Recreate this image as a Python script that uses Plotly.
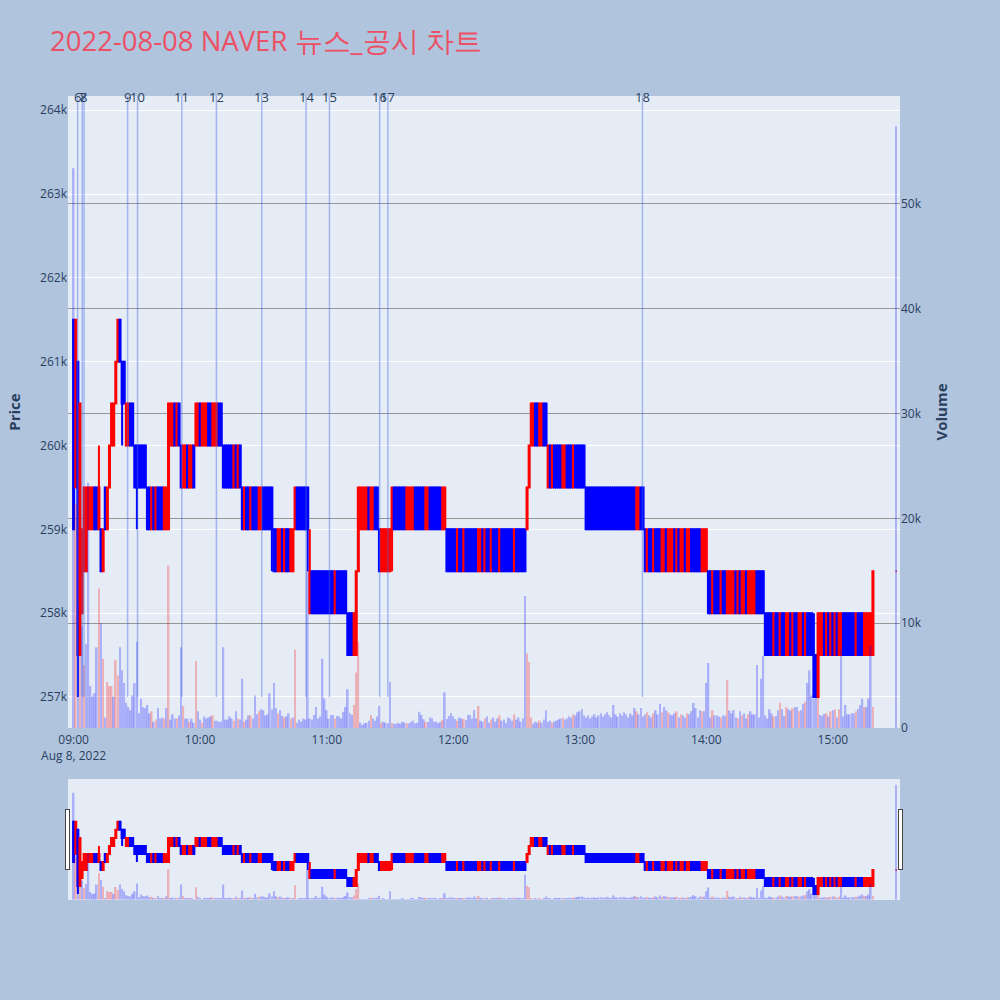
import pandas as pd
import plotly.graph_objects as go

# ---- time axis: 1-minute candles 09:00..15:19 plus the 15:30 closing print
times = list(pd.date_range('2022-08-08 09:00', '2022-08-08 15:19', freq='min').strftime('%Y-%m-%d %H:%M:%S'))
times.append('2022-08-08 15:30:00')

opens = [
    261500, 259500, 261000, 257500, 258000, 258500, 258500, 259000, 259000, 259000,
    259500, 259500, 259000, 259000, 258500, 259500, 259000, 259500, 260000, 260000,
    260500, 261000, 261500, 261000, 261000, 260000, 260000, 260500, 260500, 260000,
    260000, 260000, 260000, 260000, 260000, 259500, 259500, 259000, 259500, 259000,
    259500, 259500, 259500, 259000, 259000, 259000, 260000, 260000, 260500, 260000,
    260500, 260000, 259500, 259500, 260000, 259500, 259500, 260000, 260000, 260000,
    260500, 260000, 260000, 260000, 260500, 260500, 260000, 260000, 260000, 260500,
    260500, 260000, 260000, 260000, 260000, 260000, 259500, 260000, 259500, 260000,
    259500, 259000, 259500, 259500, 259000, 259500, 259500, 259500, 259000, 259000,
    259500, 259500, 259500, 259500, 259500, 259000, 259000, 258500, 258500, 259000,
    258500, 259000, 259000, 258500, 258500, 259000, 259500, 259500, 259500, 259500,
    259500, 259500, 258000, 258500, 258500, 258500, 258500, 258500, 258500, 258500,
    258500, 258500, 258500, 258500, 258000, 258500, 258500, 258500, 258500, 258500,
    258000, 258000, 258000, 257500, 257500, 258500, 259000, 259000, 259000, 259000,
    259500, 259000, 259000, 259500, 259500, 259000, 258500, 258500, 258500, 258500,
    258500, 259000, 259500, 259500, 259500, 259500, 259500, 259500, 259000, 259000,
    259000, 259000, 259500, 259500, 259500, 259500, 259500, 259000, 259000, 259500,
    259500, 259500, 259500, 259500, 259500, 259000, 259000, 259000, 259000, 259000,
    259000, 259000, 258500, 259000, 259000, 258500, 259000, 259000, 259000, 259000,
    259000, 259000, 258500, 258500, 259000, 258500, 259000, 259000, 258500, 259000,
    259000, 259000, 258500, 259000, 259000, 259000, 259000, 259000, 259000, 258500,
    259000, 259000, 259000, 259000, 259000, 259000, 259500, 260000, 260000, 260500,
    260500, 260000, 260000, 260500, 260500, 259500, 260000, 259500, 260000, 260000,
    260000, 260000, 259500, 259500, 260000, 260000, 260000, 259500, 260000, 260000,
    260000, 260000, 260000, 259500, 259500, 259500, 259500, 259500, 259500, 259500,
    259500, 259500, 259500, 259500, 259500, 259500, 259500, 259500, 259500, 259500,
    259500, 259500, 259500, 259500, 259500, 259500, 259500, 259000, 259000, 259500,
    259500, 259000, 258500, 259000, 259000, 258500, 259000, 259000, 259000, 258500,
    258500, 259000, 258500, 258500, 258500, 259000, 258500, 259000, 258500, 258500,
    259000, 258500, 258500, 259000, 259000, 259000, 259000, 259000, 258500, 258500,
    258500, 258500, 258500, 258000, 258500, 258500, 258500, 258000, 258500, 258500,
    258000, 258000, 258000, 258000, 258500, 258000, 258500, 258000, 258000, 258500,
    258000, 258000, 258000, 258000, 258500, 258500, 258500, 258500, 258000, 258000,
    258000, 258000, 257500, 258000, 258000, 257500, 258000, 258000, 257500, 257500,
    258000, 257500, 258000, 258000, 257500, 257500, 258000, 257500, 258000, 258000,
    258000, 257500, 257500, 257000, 257500, 257500, 258000, 257500, 258000, 257500,
    258000, 257500, 258000, 257500, 257500, 258000, 258000, 258000, 258000, 258000,
    258000, 257500, 258000, 258000, 258000, 257500, 257500, 257500, 257500, 257500,
    258500,
]

highs = [
    261500, 261500, 261000, 260500, 259000, 259500, 259500, 259500, 259500, 259500,
    259500, 259500, 260000, 259000, 259000, 259500, 259500, 260000, 260500, 260500,
    261000, 261500, 261500, 261000, 261000, 260500, 260500, 260500, 260500, 260000,
    260000, 260000, 260000, 260000, 260000, 259500, 259500, 259500, 259500, 259500,
    259500, 259500, 259500, 259500, 259500, 260500, 260500, 260500, 260500, 260500,
    260500, 260000, 260000, 260000, 260000, 260000, 260000, 260000, 260500, 260500,
    260500, 260500, 260500, 260500, 260500, 260500, 260500, 260500, 260500, 260500,
    260500, 260000, 260000, 260000, 260000, 260000, 260000, 260000, 260000, 260000,
    259500, 259500, 259500, 259500, 259500, 259500, 259500, 259500, 259500, 259500,
    259500, 259500, 259500, 259500, 259500, 259000, 259000, 259000, 259000, 259000,
    259000, 259000, 259000, 259000, 259000, 259500, 259500, 259500, 259500, 259500,
    259500, 259500, 259000, 258500, 258500, 258500, 258500, 258500, 258500, 258500,
    258500, 258500, 258500, 258500, 258500, 258500, 258500, 258500, 258500, 258500,
    258000, 258000, 258000, 258000, 258500, 259500, 259500, 259500, 259500, 259500,
    259500, 259500, 259500, 259500, 259500, 259000, 259000, 259000, 259000, 259000,
    259000, 259500, 259500, 259500, 259500, 259500, 259500, 259500, 259500, 259500,
    259500, 259500, 259500, 259500, 259500, 259500, 259500, 259500, 259500, 259500,
    259500, 259500, 259500, 259500, 259500, 259500, 259500, 259000, 259000, 259000,
    259000, 259000, 259000, 259000, 259000, 259000, 259000, 259000, 259000, 259000,
    259000, 259000, 259000, 259000, 259000, 259000, 259000, 259000, 259000, 259000,
    259000, 259000, 259000, 259000, 259000, 259000, 259000, 259000, 259000, 259000,
    259000, 259000, 259000, 259000, 259000, 259500, 260000, 260500, 260500, 260500,
    260500, 260500, 260500, 260500, 260500, 260000, 260000, 260000, 260000, 260000,
    260000, 260000, 260000, 260000, 260000, 260000, 260000, 260000, 260000, 260000,
    260000, 260000, 260000, 259500, 259500, 259500, 259500, 259500, 259500, 259500,
    259500, 259500, 259500, 259500, 259500, 259500, 259500, 259500, 259500, 259500,
    259500, 259500, 259500, 259500, 259500, 259500, 259500, 259500, 259500, 259500,
    259500, 259000, 259000, 259000, 259000, 259000, 259000, 259000, 259000, 259000,
    259000, 259000, 259000, 259000, 259000, 259000, 259000, 259000, 259000, 259000,
    259000, 259000, 259000, 259000, 259000, 259000, 259000, 259000, 259000, 259000,
    259000, 258500, 258500, 258500, 258500, 258500, 258500, 258500, 258500, 258500,
    258500, 258500, 258500, 258500, 258500, 258500, 258500, 258500, 258500, 258500,
    258500, 258500, 258500, 258500, 258500, 258500, 258500, 258500, 258000, 258000,
    258000, 258000, 258000, 258000, 258000, 258000, 258000, 258000, 258000, 258000,
    258000, 258000, 258000, 258000, 258000, 258000, 258000, 258000, 258000, 258000,
    258000, 258000, 257500, 258000, 258000, 258000, 258000, 258000, 258000, 258000,
    258000, 258000, 258000, 258000, 258000, 258000, 258000, 258000, 258000, 258000,
    258000, 258000, 258000, 258000, 258000, 258000, 258000, 258000, 258000, 258500,
    258500,
]

lows = [
    259000, 259500, 257000, 257500, 258000, 258500, 258500, 259000, 259000, 259000,
    259000, 259000, 259000, 258500, 258500, 259000, 259000, 259500, 260000, 260000,
    260500, 261000, 261000, 260000, 260500, 260000, 260000, 260000, 260000, 259500,
    259000, 259500, 259500, 259500, 259500, 259000, 259000, 259000, 259000, 259000,
    259000, 259000, 259000, 259000, 259000, 259000, 260000, 260000, 260000, 260000,
    260000, 259500, 259500, 259500, 259500, 259500, 259500, 259500, 260000, 260000,
    260000, 260000, 260000, 260000, 260000, 260000, 260000, 260000, 260000, 260000,
    260000, 259500, 259500, 259500, 259500, 259500, 259500, 259500, 259500, 259500,
    259000, 259000, 259000, 259000, 259000, 259000, 259000, 259000, 259000, 259000,
    259000, 259000, 259000, 259000, 258500, 258500, 258500, 258500, 258500, 258500,
    258500, 258500, 258500, 258500, 258500, 259000, 259000, 259000, 259000, 259000,
    259000, 258500, 258000, 258000, 258000, 258000, 258000, 258000, 258000, 258000,
    258000, 258000, 258000, 258000, 258000, 258000, 258000, 258000, 258000, 258000,
    257500, 257500, 257500, 257500, 257500, 258500, 259000, 259000, 259000, 259000,
    259000, 259000, 259000, 259000, 259000, 258500, 258500, 258500, 258500, 258500,
    258500, 258500, 259000, 259000, 259000, 259000, 259000, 259000, 259000, 259000,
    259000, 259000, 259000, 259000, 259000, 259000, 259000, 259000, 259000, 259000,
    259000, 259000, 259000, 259000, 259000, 259000, 259000, 258500, 258500, 258500,
    258500, 258500, 258500, 258500, 258500, 258500, 258500, 258500, 258500, 258500,
    258500, 258500, 258500, 258500, 258500, 258500, 258500, 258500, 258500, 258500,
    258500, 258500, 258500, 258500, 258500, 258500, 258500, 258500, 258500, 258500,
    258500, 258500, 258500, 258500, 258500, 259000, 259500, 260000, 260000, 260000,
    260000, 260000, 260000, 260000, 260000, 259500, 259500, 259500, 259500, 259500,
    259500, 259500, 259500, 259500, 259500, 259500, 259500, 259500, 259500, 259500,
    259500, 259500, 259500, 259000, 259000, 259000, 259000, 259000, 259000, 259000,
    259000, 259000, 259000, 259000, 259000, 259000, 259000, 259000, 259000, 259000,
    259000, 259000, 259000, 259000, 259000, 259000, 259000, 259000, 259000, 259000,
    259000, 258500, 258500, 258500, 258500, 258500, 258500, 258500, 258500, 258500,
    258500, 258500, 258500, 258500, 258500, 258500, 258500, 258500, 258500, 258500,
    258500, 258500, 258500, 258500, 258500, 258500, 258500, 258500, 258500, 258500,
    258500, 258000, 258000, 258000, 258000, 258000, 258000, 258000, 258000, 258000,
    258000, 258000, 258000, 258000, 258000, 258000, 258000, 258000, 258000, 258000,
    258000, 258000, 258000, 258000, 258000, 258000, 258000, 258000, 257500, 257500,
    257500, 257500, 257500, 257500, 257500, 257500, 257500, 257500, 257500, 257500,
    257500, 257500, 257500, 257500, 257500, 257500, 257500, 257500, 257500, 257500,
    257500, 257000, 257000, 257000, 257500, 257500, 257500, 257500, 257500, 257500,
    257500, 257500, 257500, 257500, 257500, 257500, 257500, 257500, 257500, 257500,
    257500, 257500, 257500, 257500, 257500, 257500, 257500, 257500, 257500, 257500,
    258500,
]

closes = [
    259000, 261500, 257500, 260500, 259000, 259500, 259500, 259500, 259500, 259500,
    259000, 259000, 259500, 258500, 259000, 259000, 259500, 260000, 260500, 260500,
    261000, 261500, 261000, 260500, 260500, 260500, 260500, 260000, 260000, 259500,
    259500, 259500, 259500, 259500, 259500, 259000, 259000, 259500, 259000, 259500,
    259000, 259000, 259000, 259500, 259500, 260500, 260500, 260500, 260000, 260500,
    260000, 259500, 260000, 260000, 259500, 260000, 260000, 259500, 260500, 260500,
    260000, 260500, 260500, 260500, 260000, 260000, 260500, 260500, 260500, 260000,
    260000, 259500, 259500, 259500, 259500, 259500, 260000, 259500, 260000, 259500,
    259000, 259500, 259000, 259000, 259500, 259000, 259000, 259000, 259500, 259500,
    259000, 259000, 259000, 259000, 259000, 258500, 258500, 259000, 259000, 258500,
    259000, 258500, 258500, 259000, 259000, 259500, 259000, 259000, 259000, 259000,
    259000, 259000, 258500, 258000, 258000, 258000, 258000, 258000, 258000, 258000,
    258000, 258000, 258000, 258000, 258500, 258000, 258000, 258000, 258000, 258000,
    257500, 257500, 257500, 258000, 258500, 259500, 259500, 259500, 259500, 259500,
    259000, 259500, 259500, 259000, 259000, 258500, 259000, 259000, 259000, 259000,
    259000, 259500, 259000, 259000, 259000, 259000, 259000, 259000, 259500, 259500,
    259500, 259500, 259000, 259000, 259000, 259000, 259000, 259500, 259500, 259000,
    259000, 259000, 259000, 259000, 259000, 259500, 259500, 258500, 258500, 258500,
    258500, 258500, 259000, 258500, 258500, 259000, 258500, 258500, 258500, 258500,
    258500, 258500, 259000, 259000, 258500, 259000, 258500, 258500, 259000, 258500,
    258500, 258500, 259000, 258500, 258500, 258500, 258500, 258500, 258500, 259000,
    258500, 258500, 258500, 258500, 258500, 259500, 260000, 260500, 260500, 260000,
    260000, 260500, 260500, 260000, 260000, 260000, 259500, 260000, 259500, 259500,
    259500, 259500, 260000, 260000, 259500, 259500, 259500, 260000, 259500, 259500,
    259500, 259500, 259500, 259000, 259000, 259000, 259000, 259000, 259000, 259000,
    259000, 259000, 259000, 259000, 259000, 259000, 259000, 259000, 259000, 259000,
    259000, 259000, 259000, 259000, 259000, 259000, 259000, 259500, 259500, 259000,
    259000, 258500, 259000, 258500, 258500, 259000, 258500, 258500, 258500, 259000,
    259000, 258500, 259000, 259000, 259000, 258500, 259000, 258500, 259000, 259000,
    258500, 259000, 259000, 258500, 258500, 258500, 258500, 258500, 259000, 259000,
    259000, 258000, 258000, 258500, 258000, 258000, 258000, 258500, 258000, 258000,
    258500, 258500, 258500, 258500, 258000, 258500, 258000, 258500, 258500, 258000,
    258500, 258500, 258500, 258500, 258000, 258000, 258000, 258000, 257500, 257500,
    257500, 257500, 258000, 257500, 257500, 258000, 257500, 257500, 258000, 258000,
    257500, 258000, 257500, 257500, 258000, 258000, 257500, 258000, 257500, 257500,
    257500, 257000, 257000, 258000, 258000, 258000, 257500, 258000, 257500, 258000,
    257500, 258000, 257500, 258000, 258000, 257500, 257500, 257500, 257500, 257500,
    257500, 258000, 257500, 257500, 257500, 258000, 258000, 258000, 258000, 258500,
    258500,
]

volumes = [
    53400, 21400, 12000, 9000, 9700, 6000, 8000, 23400, 4000, 3000,
    3300, 7700, 13300, 10000, 6600, 1000, 4400, 4000, 4000, 3000,
    6500, 5000, 7700, 5500, 4300, 2400, 2000, 1700, 3100, 4300,
    8200, 1400, 2800, 2000, 1900, 2200, 1400, 1600, 600, 800,
    1900, 900, 1000, 900, 1900, 15500, 800, 1300, 900, 900,
    1200, 7700, 2100, 900, 900, 600, 900, 500, 6400, 1600,
    800, 500, 1100, 900, 1000, 1100, 1200, 700, 700, 600,
    600, 7700, 800, 800, 1100, 900, 700, 1600, 900, 800,
    4700, 600, 800, 1200, 1200, 900, 3100, 1300, 1600, 1800,
    1700, 1200, 1300, 3300, 1800, 4300, 1900, 1400, 1700, 1150,
    1000, 1100, 1400, 900, 1000, 7500, 500, 800, 600, 900,
    800, 15000, 900, 800, 1250, 2000, 900, 1100, 6600, 2800,
    1700, 900, 1250, 1250, 900, 1150, 1100, 900, 1550, 2000,
    3700, 1400, 1250, 2200, 5300, 8200, 500, 300, 450, 500,
    700, 1250, 900, 700, 1100, 2100, 500, 600, 500, 450,
    4400, 450, 400, 400, 500, 400, 600, 500, 450, 450,
    600, 700, 450, 500, 1550, 1250, 850, 600, 580, 1000,
    900, 600, 600, 450, 580, 750, 3400, 850, 1150, 1400,
    1100, 850, 700, 1000, 900, 850, 750, 1250, 1250, 900,
    1700, 900, 2100, 700, 600, 900, 1100, 500, 800, 1000,
    600, 900, 1200, 700, 800, 500, 1000, 900, 700, 1300,
    800, 1000, 600, 900, 12600, 7100, 6300, 1000, 400, 600,
    500, 700, 500, 800, 1700, 600, 700, 500, 600, 700,
    800, 900, 1000, 800, 900, 1100, 1000, 1300, 1200, 1500,
    1600, 1800, 1200, 1000, 1200, 900, 1100, 1300, 1000, 1200,
    1400, 1100, 1300, 1500, 1200, 1000, 2200, 1300, 1100, 1400,
    1200, 1500, 1300, 1000, 1400, 1200, 1900, 1600, 1300, 1900,
    1100, 1300, 1500, 1200, 1000, 1400, 1700, 1300, 2300, 1500,
    2000, 1700, 1500, 1300, 1200, 1400, 1600, 1000, 1300, 1200,
    1000, 1400, 1300, 1600, 2400, 1900, 1000, 1700, 1600, 1600,
    4300, 6200, 1000, 1700, 1200, 1200, 1100, 1000, 1200, 1150,
    4600, 1650, 1400, 1700, 1000, 900, 1600, 1200, 1400, 900,
    1300, 1600, 1300, 1300, 6000, 1000, 4700, 6900, 1200, 900,
    1800, 1400, 1100, 1150, 1700, 2400, 1800, 1150, 2000, 1800,
    1650, 1900, 2000, 2000, 1600, 1700, 2300, 2500, 4300, 5500,
    3100, 2800, 3000, 4300, 1250, 1150, 1350, 1400, 1100, 1600,
    1700, 1800, 1000, 1800, 7500, 1100, 2200, 1300, 1300, 1400,
    1400, 1600, 1800, 2200, 2800, 2000, 2000, 2800, 7900, 2000,
    57400,
]

# news / disclosure markers
news_labels = ['6', '7', '8', '9', '10', '11', '12', '13', '14', '15', '16', '17', '18']
news_times = [
    '2022-08-08 09:01:54', '2022-08-08 09:04:04', '2022-08-08 09:04:55',
    '2022-08-08 09:25:36', '2022-08-08 09:30:18', '2022-08-08 09:51:18',
    '2022-08-08 10:07:42', '2022-08-08 10:29:12', '2022-08-08 10:50:12',
    '2022-08-08 11:01:18', '2022-08-08 11:25:06', '2022-08-08 11:29:00',
    '2022-08-08 13:29:42',
]

# volume axis tick values (labels 0 .. 50k)
volume_ticks = [0, 10000, 20000, 30000, 40000, 50000]

X_RANGE = ['2022-08-08 08:57:20', '2022-08-08 15:31:50']
Y_RANGE = [256630, 264170]
Y2_RANGE = [0, 60300]

vol_colors = ['blue'] + ['red' if closes[i] > closes[i - 1] else 'blue' for i in range(1, len(closes))]

fig = go.Figure()
fig.add_trace(go.Candlestick(
    x=times, open=opens, high=highs, low=lows, close=closes,
    increasing=dict(line=dict(color='red'), fillcolor='red'),
    decreasing=dict(line=dict(color='blue'), fillcolor='blue'),
    name='Price', yaxis='y',
))
fig.add_trace(go.Bar(
    x=times, y=volumes, marker=dict(color=vol_colors, opacity=0.25, line=dict(width=0)),
    name='Volume', yaxis='y2',
))

low_min = min(lows)
for t, lab in zip(news_times, news_labels):
    fig.add_shape(type='line', xref='x', yref='y', x0=t, x1=t, y0=low_min, y1=Y_RANGE[1],
                  line=dict(color='rgba(65,105,225,0.42)', width=1.5))
    fig.add_annotation(x=t, xref='x', y=1, yref='paper', text=lab, showarrow=False,
                       yanchor='middle', yshift=-1, font=dict(size=13, color='#2a3f5f'))

fig.update_layout(
    width=1000, height=1000,
    paper_bgcolor='lightsteelblue',
    plot_bgcolor='#E5ECF6',
    showlegend=False,
    margin=dict(l=68, r=100, t=96, b=100),
    title=dict(text='2022-08-08 NAVER 뉴스_공시 차트', x=0.05, xanchor='left',
               y=0.959, yref='container', yanchor='middle',
               font=dict(size=27.5, color='rgb(236,80,100)')),
    xaxis=dict(range=X_RANGE, showgrid=False, domain=[0, 1],
               ticks='outside', ticklen=1, tickcolor='rgba(0,0,0,0)',
               rangeslider=dict(visible=True, range=X_RANGE, bgcolor='#E5ECF6', thickness=0.15)),
    yaxis=dict(title=dict(text='Price', font=dict(size=15, weight='bold')),
               range=Y_RANGE, gridcolor='white', zeroline=False),
    yaxis2=dict(title=dict(text='Volume', font=dict(size=15, weight='bold')),
                overlaying='y', side='right', range=Y2_RANGE, showgrid=True,
                tickmode='array', tickvals=volume_ticks,
                gridcolor='rgb(150,150,150)', gridwidth=1.3, zeroline=False),
)

fig.write_html('out.html', config={'displayModeBar': False},
               post_script="document.body.style.margin='0';document.body.style.overflow='hidden';")
